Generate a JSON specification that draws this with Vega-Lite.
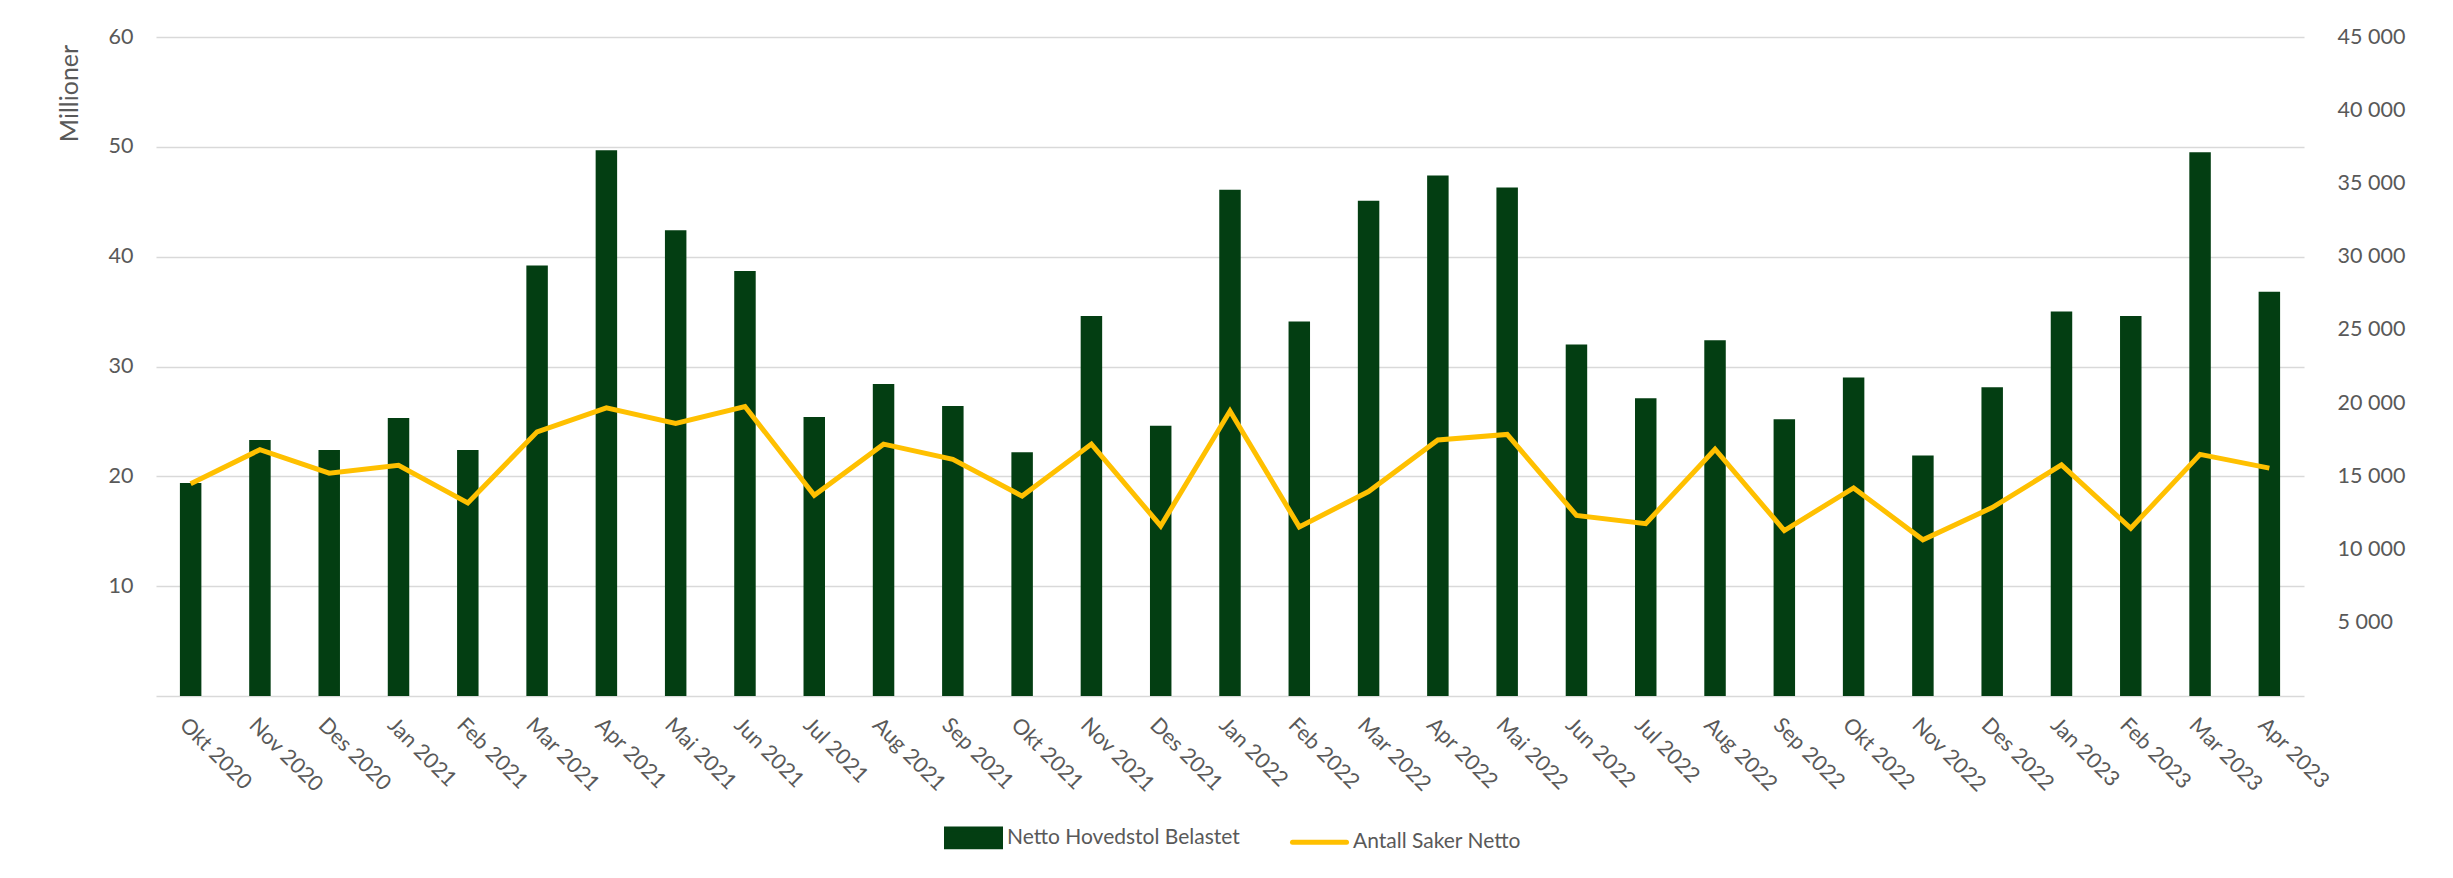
{
  "$schema": "https://vega.github.io/schema/vega-lite/v6.json",
  "width": 2148,
  "height": 659,
  "autosize": {"type": "none"},
  "padding": {"left": 156, "top": 37, "right": 149, "bottom": 182},
  "background": "white",
  "config": {
    "view": {"stroke": null},
    "font": "Lato",
    "axis": {"labelFont": "Lato", "labelColor": "#595959", "titleFont": "Lato", "titleColor": "#595959", "titleFontWeight": "normal"},
    "axisLeft": {"titleFontSize": 25},
    "legend": {"labelFont": "Lato", "labelColor": "#595959"}
  },
  "data": {
    "values": [
      {"maned": "Okt 2020", "netto_hovedstol_mill": 19.4, "antall_saker": 14500},
      {"maned": "Nov 2020", "netto_hovedstol_mill": 23.3, "antall_saker": 16820},
      {"maned": "Des 2020", "netto_hovedstol_mill": 22.4, "antall_saker": 15220},
      {"maned": "Jan 2021", "netto_hovedstol_mill": 25.3, "antall_saker": 15750},
      {"maned": "Feb 2021", "netto_hovedstol_mill": 22.4, "antall_saker": 13180},
      {"maned": "Mar 2021", "netto_hovedstol_mill": 39.2, "antall_saker": 18040},
      {"maned": "Apr 2021", "netto_hovedstol_mill": 49.7, "antall_saker": 19680},
      {"maned": "Mai 2021", "netto_hovedstol_mill": 42.4, "antall_saker": 18610},
      {"maned": "Jun 2021", "netto_hovedstol_mill": 38.7, "antall_saker": 19770},
      {"maned": "Jul 2021", "netto_hovedstol_mill": 25.4, "antall_saker": 13710},
      {"maned": "Aug 2021", "netto_hovedstol_mill": 28.4, "antall_saker": 17200},
      {"maned": "Sep 2021", "netto_hovedstol_mill": 26.4, "antall_saker": 16160},
      {"maned": "Okt 2021", "netto_hovedstol_mill": 22.2, "antall_saker": 13650},
      {"maned": "Nov 2021", "netto_hovedstol_mill": 34.6, "antall_saker": 17200},
      {"maned": "Des 2021", "netto_hovedstol_mill": 24.6, "antall_saker": 11610},
      {"maned": "Jan 2022", "netto_hovedstol_mill": 46.1, "antall_saker": 19460},
      {"maned": "Feb 2022", "netto_hovedstol_mill": 34.1, "antall_saker": 11550},
      {"maned": "Mar 2022", "netto_hovedstol_mill": 45.1, "antall_saker": 13960},
      {"maned": "Apr 2022", "netto_hovedstol_mill": 47.4, "antall_saker": 17480},
      {"maned": "Mai 2022", "netto_hovedstol_mill": 46.3, "antall_saker": 17860},
      {"maned": "Jun 2022", "netto_hovedstol_mill": 32.0, "antall_saker": 12330},
      {"maned": "Jul 2022", "netto_hovedstol_mill": 27.1, "antall_saker": 11770},
      {"maned": "Aug 2022", "netto_hovedstol_mill": 32.4, "antall_saker": 16850},
      {"maned": "Sep 2022", "netto_hovedstol_mill": 25.2, "antall_saker": 11300},
      {"maned": "Okt 2022", "netto_hovedstol_mill": 29.0, "antall_saker": 14210},
      {"maned": "Nov 2022", "netto_hovedstol_mill": 21.9, "antall_saker": 10670},
      {"maned": "Des 2022", "netto_hovedstol_mill": 28.1, "antall_saker": 12870},
      {"maned": "Jan 2023", "netto_hovedstol_mill": 35.0, "antall_saker": 15780},
      {"maned": "Feb 2023", "netto_hovedstol_mill": 34.6, "antall_saker": 11450},
      {"maned": "Mar 2023", "netto_hovedstol_mill": 49.5, "antall_saker": 16500},
      {"maned": "Apr 2023", "netto_hovedstol_mill": 36.8, "antall_saker": 15560}
    ]
  },
  "encoding": {
    "x": {
      "field": "maned",
      "type": "nominal",
      "sort": null,
      "title": null,
      "scale": {"paddingInner": 0.69, "paddingOuter": 0.345},
      "axis": {
        "labelAngle": 45,
        "labelAlign": "left",
        "labelBaseline": "top",
        "labelPadding": 18,
        "labelFontSize": 21.5,
        "ticks": false,
        "domain": false,
        "grid": false
      }
    }
  },
  "layer": [
    {
      "mark": {"type": "bar", "color": "#033E12"},
      "encoding": {
        "y": {
          "field": "netto_hovedstol_mill",
          "type": "quantitative",
          "scale": {"domain": [0, 60], "nice": false},
          "axis": {
            "orient": "left",
            "values": [0, 10, 20, 30, 40, 50, 60],
            "labelExpr": "datum.value == 0 ? '' : datum.label",
            "labelFontSize": 21.5,
            "labelPadding": 23,
            "ticks": false,
            "domain": false,
            "grid": true,
            "gridColor": "#D9D9D9",
            "gridWidth": 1.5,
            "title": "Millioner",
            "titleFontSize": 25,
            "titleAngle": -90,
            "titleX": -87,
            "titleY": 56,
            "titleAlign": "center",
            "titleBaseline": "middle"
          }
        },
        "color": {
          "datum": "Netto Hovedstol Belastet",
          "type": "nominal",
          "scale": {"domain": ["Netto Hovedstol Belastet", "Antall Saker Netto"], "range": ["#033E12", "#FFC000"]},
          "legend": {
            "title": null,
            "orient": "none",
            "direction": "horizontal",
            "legendX": 788,
            "legendY": 771,
            "labelFontSize": 21,
            "labelOffset": 4,
            "labelLimit": 500,
            "columnPadding": 42,
            "symbolSize": 2916,
            "encode": {
              "symbols": {
                "update": {
                  "shape": [
                    {"test": "datum.value === 'Antall Saker Netto'", "value": "M-1,0L1,0"},
                    {"value": "M-1,-0.33L1,-0.33L1,0.33L-1,0.33Z"}
                  ],
                  "fill": [
                    {"test": "datum.value === 'Antall Saker Netto'", "value": "transparent"},
                    {"value": "#033E12"}
                  ],
                  "stroke": [
                    {"test": "datum.value === 'Antall Saker Netto'", "value": "#FFC000"},
                    {"value": "transparent"}
                  ],
                  "strokeWidth": {"value": 5},
                  "strokeCap": {"value": "round"},
                  "opacity": {"value": 1},
                  "fillOpacity": {"value": 1},
                  "strokeOpacity": {"value": 1}
                }
              }
            }
          }
        }
      }
    },
    {
      "mark": {"type": "line", "strokeWidth": 5},
      "encoding": {
        "y": {
          "field": "antall_saker",
          "type": "quantitative",
          "scale": {"domain": [0, 45000], "nice": false},
          "axis": {
            "orient": "right",
            "values": [5000, 10000, 15000, 20000, 25000, 30000, 35000, 40000, 45000],
            "labelExpr": "replace(format(datum.value, ','), ',', ' ')",
            "labelFontSize": 21.5,
            "labelPadding": 33,
            "ticks": false,
            "domain": false,
            "grid": false,
            "title": null
          }
        },
        "color": {"datum": "Antall Saker Netto", "type": "nominal"}
      }
    }
  ],
  "resolve": {"scale": {"y": "independent"}}
}
